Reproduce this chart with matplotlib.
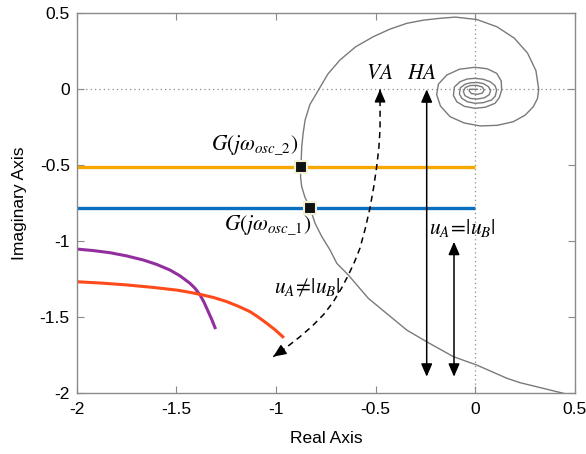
import matplotlib
matplotlib.use("Agg")
import matplotlib.pyplot as plt

# ---------------- data ----------------
ticks = [-2, -1.5, -1, -0.5, 0, 0.5]
tick_labels = ["-2", "-1.5", "-1", "-0.5", "0", "0.5"]

# Nyquist curve G(jw) (gray)
nyq_x = [0.50, 0.442, 0.224, 0.158, 0.007, -0.110, -0.244, -0.344, -0.478, -0.537,
         -0.637, -0.695, -0.729, -0.770, -0.804, -0.829, -0.855, -0.871, -0.877, -0.875,
         -0.871, -0.864, -0.854, -0.830, -0.788, -0.740, -0.679, -0.600, -0.512, -0.430,
         -0.344, -0.260, -0.177, -0.100, 0.008, 0.109, 0.196, 0.262, 0.304, 0.318,
         0.312, 0.291, 0.250, 0.191, 0.110, 0.024, -0.055, -0.127, -0.175, -0.194,
         -0.185, -0.143, -0.080, -0.002, 0.060, 0.107, 0.130, 0.132,
         0.120, 0.099, 0.050, -0.002, -0.055, -0.093, -0.110, -0.105, -0.077, -0.040,
         -0.002, 0.040, 0.074, 0.098, 0.107,
         0.100, 0.082, 0.040, -0.002, -0.040, -0.068, -0.080, -0.075, -0.052, -0.025,
         0.010, 0.040, 0.065, 0.077,
         0.070, 0.045, 0.010, -0.025, -0.052, -0.060, -0.050, -0.025, 0.007, 0.035,
         0.044, 0.035, 0.010, -0.020, -0.030, -0.030, 0.010]
nyq_y = [-2.02, -2.000, -1.930, -1.901, -1.814, -1.759, -1.661, -1.584, -1.439, -1.375,
         -1.222, -1.145, -1.057, -0.970, -0.882, -0.783, -0.710, -0.641, -0.575, -0.513,
         -0.378, -0.290, -0.202, -0.100, -0.007, 0.100, 0.193, 0.280, 0.346, 0.395,
         0.434, 0.455, 0.467, 0.475, 0.459, 0.411, 0.336, 0.238, 0.123, 0.000,
         -0.060, -0.114, -0.170, -0.213, -0.237, -0.241, -0.222, -0.180, -0.110, -0.035,
         0.035, 0.094, 0.132, 0.145, 0.135, 0.105, 0.055, -0.005,
         -0.055, -0.092, -0.118, -0.125, -0.112, -0.082, -0.040, 0.015, 0.050, 0.068,
         0.072, 0.066, 0.050, 0.025, -0.005,
         -0.045, -0.070, -0.088, -0.092, -0.082, -0.059, -0.030, 0.010, 0.033, 0.043,
         0.045, 0.038, 0.018, -0.005,
         -0.035, -0.056, -0.064, -0.060, -0.042, -0.015, 0.012, 0.025, 0.026, 0.015,
         -0.005, -0.025, -0.033, -0.028, -0.012, 0.000, 0.000]

# describing-function lines
osc2_y = -0.51     # orange line
osc1_y = -0.783    # blue line
hline_x = [-2.0, 0.0]

# -1/N curves
purple_x = [-2.0, -1.917, -1.833, -1.750, -1.666, -1.599, -1.532, -1.482, -1.432,
            -1.4065, -1.381, -1.3605, -1.340, -1.323, -1.306]
purple_y = [-1.051, -1.061, -1.075, -1.096, -1.123, -1.152, -1.189, -1.227, -1.276,
            -1.309, -1.353, -1.403, -1.463, -1.513, -1.568]
red_x = [-2.0, -1.875, -1.749, -1.620, -1.498, -1.440, -1.381, -1.310, -1.247,
         -1.190, -1.130, -1.090, -1.047, -1.005, -0.966]
red_y = [-1.266, -1.275, -1.287, -1.303, -1.321, -1.334, -1.349, -1.371, -1.397,
         -1.427, -1.463, -1.498, -1.539, -1.582, -1.628]

# intersection points
pts_x = [-0.875, -0.829]
pts_y = [-0.51, -0.783]

# VA dashed curved arrow path
va_x = [-0.478, -0.478, -0.484, -0.495, -0.510, -0.529, -0.552, -0.579, -0.606,
        -0.637, -0.672, -0.712, -0.760, -0.820, -0.880, -0.945, -1.014]
va_y = [0.0, -0.26, -0.385, -0.509, -0.645, -0.783, -0.915, -1.046, -1.135,
        -1.222, -1.310, -1.397, -1.480, -1.560, -1.628, -1.695, -1.759]

# HA double arrows
ha1_x, ha1_y = -0.244, [0.0, -1.891]
ha2_x, ha2_y = -0.107, [-1.003, -1.891]

# ---------------- plotting ----------------
plt.rcParams['font.family'] = ['Liberation Sans', 'DejaVu Sans']
plt.rcParams['mathtext.fontset'] = 'stix'

fig = plt.figure(figsize=(5.86, 4.54), dpi=100)
ax = fig.add_axes([0.1309, 0.1337, 0.9812 - 0.1309, 0.9707 - 0.1337])

grid_c = '#8c8c8c'
ax.axhline(0, color=grid_c, ls=(0, (1, 2.5)), lw=0.9, zorder=1)
ax.axvline(0, color=grid_c, ls=(0, (1, 2.5)), lw=0.9, zorder=1)

ax.plot(hline_x, [osc2_y, osc2_y], color='#F7A800', lw=2.4, zorder=2, solid_capstyle='butt')
ax.plot(hline_x, [osc1_y, osc1_y], color='#0A6FBE', lw=2.4, zorder=2, solid_capstyle='butt')
ax.plot(purple_x, purple_y, color='#932E9E', lw=2.2, zorder=2)
ax.plot(red_x, red_y, color='#FF4A1C', lw=2.2, zorder=2)

ax.plot(nyq_x, nyq_y, color='#7a7a7a', lw=1.0, zorder=3)

ax.plot(pts_x, pts_y, ls='none', marker='s', ms=8, mfc='#111111', mec='#F3F0D8',
        mew=1.5, zorder=5)

# VA dashed curve with arrow heads
ax.plot(va_x, va_y, color='black', lw=1.1, ls=(0, (4, 3)), zorder=4)
ap = dict(arrowstyle='-|>,head_length=0.6,head_width=0.26', color='black', lw=1.0,
          shrinkA=0, shrinkB=0, mutation_scale=13)
ax.annotate('', xy=(va_x[0], va_y[0]), xytext=(va_x[0], va_y[0] - 0.06), arrowprops=ap, zorder=4)
ax.annotate('', xy=(va_x[-1], va_y[-1]), xytext=(va_x[-1] + 0.05, va_y[-1] + 0.045), arrowprops=ap, zorder=4)

# HA arrows
ap2 = dict(arrowstyle='<|-|>,head_length=0.6,head_width=0.26', color='black', lw=1.1,
           shrinkA=0, shrinkB=0, mutation_scale=13)
ax.annotate('', xy=(ha1_x, ha1_y[0]), xytext=(ha1_x, ha1_y[1]), arrowprops=ap2, zorder=4)
ax.annotate('', xy=(ha2_x, ha2_y[0]), xytext=(ha2_x, ha2_y[1]), arrowprops=ap2, zorder=4)

# text labels
tfs = 15.5
ax.text(-1.105, -0.367, r'$G(j\omega_{osc\_2})$', fontsize=tfs, ha='center', va='center')
ax.text(-1.040, -0.893, r'$G(j\omega_{osc\_1})$', fontsize=tfs, ha='center', va='center')
ax.text(-0.478, 0.105, r'$VA$', fontsize=tfs, ha='center', va='center')
ax.text(-0.269, 0.105, r'$HA$', fontsize=tfs, ha='center', va='center')
ax.text(-0.067, -0.913, r'$u_A\!=\!|u_B|$', fontsize=tfs, ha='center', va='center')
ax.text(-0.844, -1.301, r'$u_A\!\neq\!|u_B|$', fontsize=tfs, ha='center', va='center')

ax.set_xlim(-2, 0.5)
ax.set_ylim(-2, 0.5)
ax.set_xticks(ticks)
ax.set_xticklabels(tick_labels)
ax.set_yticks(ticks)
ax.set_yticklabels(tick_labels)
ax.tick_params(direction='in', length=5, width=0.8, color='#8a8a8a', labelsize=12.5,
               top=True, right=True)
ax.tick_params(axis='x', pad=6)
ax.tick_params(axis='y', pad=5)
for s in ax.spines.values():
    s.set_color('#8a8a8a')
    s.set_linewidth(1.0)

ax.set_xlabel('Real Axis', fontsize=12.5, labelpad=10)
ax.set_ylabel('Imaginary Axis', fontsize=12.5, labelpad=9)

fig.savefig('out.png', dpi=100)
